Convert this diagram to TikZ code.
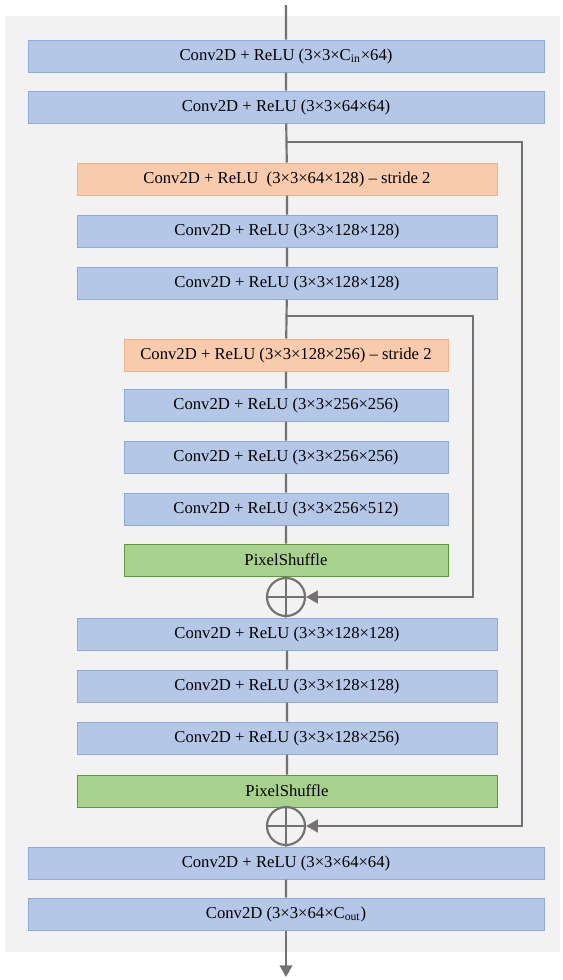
\documentclass[tikz,border=0pt]{standalone}
\usepackage{fontspec}
\setmainfont{Liberation Serif}
\usetikzlibrary{arrows.meta}
\definecolor{convblue}{HTML}{B4C7E7}
\definecolor{convline}{HTML}{8FAADC}
\definecolor{strideorange}{HTML}{F8CBAD}
\definecolor{strideline}{HTML}{F4B183}
\definecolor{shufflegreen}{HTML}{A9D18E}
\definecolor{shuffleline}{HTML}{5E9A3A}
\definecolor{flowgray}{HTML}{767171}
\definecolor{panelgray}{HTML}{F2F2F2}
\begin{document}
\begin{tikzpicture}[x=0.6pt,y=-0.6pt,>={Triangle[length=7pt,width=7.5pt]},
  layer/.style={draw=convline,fill=convblue,line width=0.6pt,minimum height=19.2pt,inner sep=0pt,font=\fontsize{10}{12}\selectfont},
  wide/.style={layer,minimum width=309.6pt},
  mid/.style={layer,minimum width=252pt},
  narrow/.style={layer,minimum width=194.4pt},
  down/.style={fill=strideorange,draw=strideline},
  shuffle/.style={fill=shufflegreen,draw=shuffleline},
  flow/.style={draw=flowgray,line width=1.3pt},
  add/.style={circle,draw=flowgray,line width=1.3pt,minimum size=22.8pt,inner sep=0pt}]
\useasboundingbox (0,0) rectangle (563,980);
\fill[panelgray] (5,16) rectangle (560,952);

% encoder
\node[wide] (b1) at (286,56) {Conv2D + ReLU (3×3×C\textsubscript{in}×64)};
\node[wide] (b2) at (286,107) {Conv2D + ReLU (3×3×64×64)};
\node[mid,down] (b3) at (287,179) {Conv2D + ReLU\ \ (3×3×64×128) – stride 2};
\node[mid] (b4) at (287,231) {Conv2D + ReLU (3×3×128×128)};
\node[mid] (b5) at (287,283) {Conv2D + ReLU (3×3×128×128)};
\node[narrow,down] (b6) at (286,355) {Conv2D + ReLU (3×3×128×256) – stride 2};
\node[narrow] (b7) at (286,405) {Conv2D + ReLU (3×3×256×256)};
\node[narrow] (b8) at (286,457) {Conv2D + ReLU (3×3×256×256)};
\node[narrow] (b9) at (286,509) {Conv2D + ReLU (3×3×256×512)};
\node[narrow,shuffle] (ps1) at (286,560) {PixelShuffle};
\node[add] (a1) at (286,597) {};

% decoder
\node[mid] (b10) at (287,634) {Conv2D + ReLU (3×3×128×128)};
\node[mid] (b11) at (287,686) {Conv2D + ReLU (3×3×128×128)};
\node[mid] (b12) at (287,738) {Conv2D + ReLU (3×3×128×256)};
\node[mid,shuffle] (ps2) at (287,791) {PixelShuffle};
\node[add] (a2) at (286,826) {};
\node[wide] (b13) at (286,863) {Conv2D + ReLU (3×3×64×64)};
\node[wide] (b14) at (286,914) {Conv2D (3×3×64×C\textsubscript{out})};

\coordinate (in) at (286,5);
\coordinate (out) at (286,977);
\coordinate (s1) at (286,142);
\coordinate (t1) at (522,142);
\coordinate (s2) at (286,316);
\coordinate (t2) at (473,316);

% main path
\draw[flow] (in) -- (b1) (b1) -- (b2) (b2) -- (b3) (b3) -- (b4) (b4) -- (b5) (b5) -- (b6)
  (b6) -- (b7) (b7) -- (b8) (b8) -- (b9) (b9) -- (ps1) (ps1) -- (a1.north)
  (a1.south) -- (b10) (b10) -- (b11) (b11) -- (b12) (b12) -- (ps2) (ps2) -- (a2.north)
  (a2.south) -- (b13) (b13) -- (b14);
\draw[flow,->] (b14) -- (out);
\draw[flow] (a1.north) -- (a1.south) (a1.west) -- (a1.east);
\draw[flow] (a2.north) -- (a2.south) (a2.west) -- (a2.east);

% skips
\draw[flow,->] (s1) -- (t1) |- (a2.east);
\draw[flow,->] (s2) -- (t2) |- (a1.east);
\end{tikzpicture}
\end{document}
